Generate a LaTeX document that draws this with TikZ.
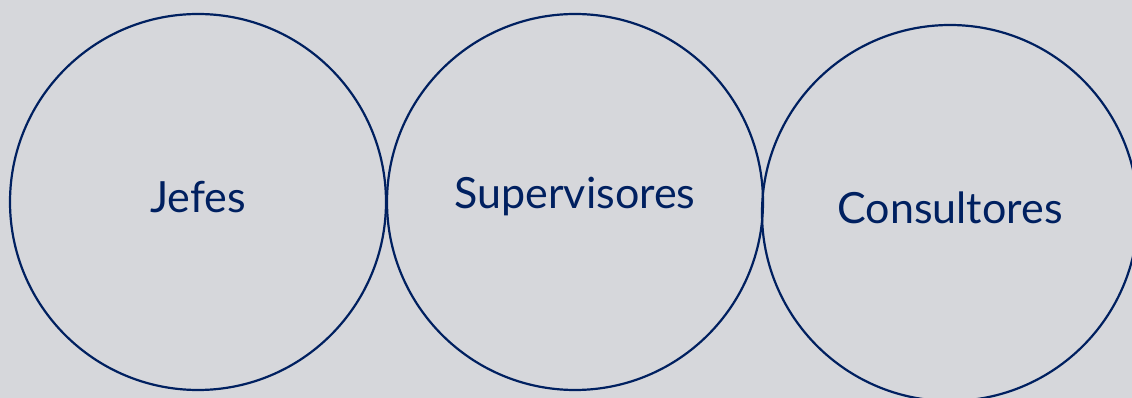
\documentclass[tikz,border=0pt]{standalone}
\usepackage{fontspec}
\setmainfont{Lato}
\usepackage{tikz}
\usetikzlibrary{positioning}
\definecolor{azul}{HTML}{002060}
\definecolor{fondo}{HTML}{D6D7DB}
\tikzset{%
	grupo/.style = {circle, draw = azul, line width = 2.2pt, minimum size = 376pt, inner sep = 0pt},
	rotulo/.style = {text = azul, inner sep = 0pt, font = \fontsize{43}{50}\selectfont}
}
\begin{document}
\begin{tikzpicture}
		\useasboundingbox (0,0) rectangle (1132pt,398pt);
		\fill [fondo] (0,0) rectangle (1132pt,398pt);
		\node [grupo] (jefes) at (198pt,196pt) {};
		\node [grupo] (supervisores) at (575pt,196pt) {};
		\node [grupo] (consultores) at (950pt,185pt) {};
		\node [rotulo] (tjefes) at ([yshift=5pt]jefes.center) {Jefes};
		\node [rotulo] (tsupervisores) at ([yshift=5pt]supervisores.center) {Supervisores};
		\node [rotulo] (tconsultores) at ([yshift=5pt]consultores.center) {Consultores};
		\end{tikzpicture}
\end{document}
